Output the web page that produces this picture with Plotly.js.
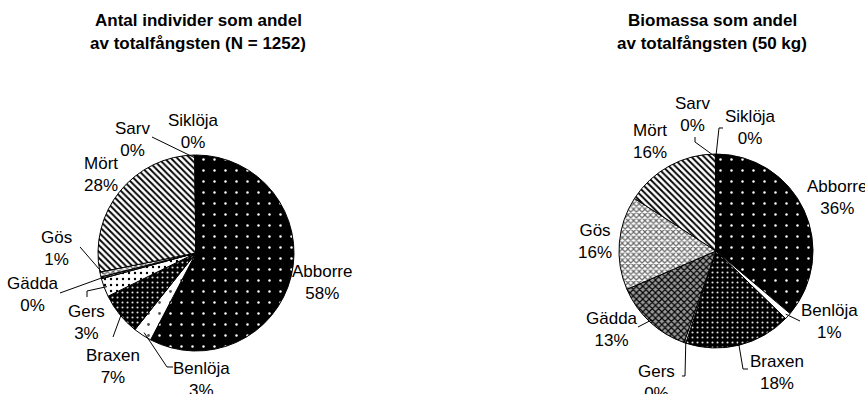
<!DOCTYPE html>
<html><head><meta charset="utf-8">
<script src="https://cdn.plot.ly/plotly-3.0.1.min.js"></script>
<style>html,body{margin:0;padding:0;background:#fff}#chart{width:865px;height:394px}</style>
</head><body><div id="chart"></div>
<script>
// ---- data ----
const species = ['Abborre','Benlöja','Braxen','Gers','Gädda','Gös','Mört','Sarv','Siklöja'];
const antalIndivider = [722, 38, 88, 38, 4, 10, 349, 2, 1];          // N = 1252
const biomassaKg = [18.1, 0.55, 8.9, 0.15, 6.6, 7.8, 7.9, 0.03, 0.02]; // ~50 kg
const titleLeft = ['Antal individer som andel', 'av totalfångsten (N = 1252)'];
const titleRight = ['Biomassa som andel', 'av totalfångsten (50 kg)'];

// ---- layout / style ----
const W = 865, H = 394;
const labelFont = {family: 'Liberation Sans Narrow, Arial Narrow, Liberation Sans, Arial, sans-serif', size: 17, color: '#000'};
const titleFont = {family: 'Liberation Sans, Arial, sans-serif', size: 17, color: '#000', weight: 'bold'};

const pies = [
  {
    cx: 196, cy: 253, r: 98, values: antalIndivider, title: titleLeft, tx: 198,
    shape: ['.', '.', '.', '.', 'x', 'x', '\\', '', ''],
    bg:    ['#000', '#fff', '#000', '#fff', '#999', '#fff', '#fff', '#fff', '#000'],
    fg:    ['#fff', '#555', '#ddd', '#000', '#000', '#666', '#000', '#000', '#fff'],
    size:  [11, 11, 5, 6, 4, 4, 4.5, 8, 8],
    sol:   [0.04, 0.05, 0.14, 0.12, 0.45, 0.5, 0.42, 0.3, 0.3],
    labelOff: {
      'Abborre': [126, 29.5], 'Benlöja': [5, 126], 'Braxen': [-83, 113], 'Gers': [-109.5, 69.5],
      'Gädda': [-163, 41], 'Gös': [-139.5, -5], 'Mört': [-95.5, -78.5], 'Sarv': [-63.5, -114], 'Siklöja': [-3, -122]
    },
    leaders: {
      'Sarv': [[-44, -116]], 'Gös': [[-116, -6]], 'Gädda': [[-136, 40]],
      'Gers': [[-109, 44], [-109, 38]], 'Braxen': [[-83, 84]], 'Benlöja': [[-23, 114], [-29, 114]]
    }
  },
  {
    cx: 716, cy: 251, r: 97, values: biomassaKg, title: titleRight, tx: 712,
    shape: ['.', '', '.', '', 'x', 'x', '\\', '', ''],
    bg:    ['#000', '#fff', '#000', '#fff', '#999', '#fff', '#fff', '#fff', '#000'],
    fg:    ['#fff', '#000', '#ddd', '#000', '#000', '#666', '#000', '#000', '#fff'],
    size:  [11, 8, 5, 8, 4.5, 4, 4.5, 8, 8],
    sol:   [0.04, 0.3, 0.14, 0.3, 0.45, 0.5, 0.42, 0.3, 0.3],
    labelOff: {
      'Abborre': [121, -53], 'Benlöja': [113, 70.5], 'Braxen': [61, 121], 'Gers': [-60, 131],
      'Gädda': [-104.5, 78], 'Gös': [-121, -9.5], 'Mört': [-66, -110], 'Sarv': [-24, -136], 'Siklöja': [34, -123]
    },
    leaders: {
      'Sarv': [[-21, -114], [-21, -109]], 'Siklöja': [[7, -123], [3, -123]], 'Benlöja': [[84, 70]],
      'Braxen': [[32, 118], [27, 118]], 'Gers': [[-34, 125], [-31, 125]], 'Gädda': [[-78, 76]]
    }
  }
];

const traces = [], annotations = [], shapes = [];
pies.forEach(p => {
  const total = p.values.reduce((a, b) => a + b, 0);
  traces.push({
    type: 'pie', values: p.values, labels: species, sort: false, direction: 'clockwise', rotation: 0,
    textinfo: 'none', hoverinfo: 'label+percent', showlegend: false,
    domain: {x: [(p.cx - p.r) / W, (p.cx + p.r) / W], y: [1 - (p.cy + p.r) / H, 1 - (p.cy - p.r) / H]},
    marker: {
      colors: p.bg, line: {color: '#000', width: 1},
      pattern: {shape: p.shape, bgcolor: p.bg, fgcolor: p.fg, size: p.size, solidity: p.sol, fillmode: 'replace'}
    }
  });
  p.title.forEach((t, k) => {
    annotations.push({xref: 'paper', yref: 'paper', x: p.tx / W, y: 1 - (21 + 22 * k) / H,
      text: '<b>' + t + '</b>', showarrow: false, xanchor: 'center', yanchor: 'middle', font: titleFont});
  });
  let cum = 0;
  species.forEach((s, i) => {
    const v = p.values[i];
    const mid = (cum + v / 2) / total * 2 * Math.PI;
    cum += v;
    const pct = Math.round(v / total * 100) + '%';
    const off = p.labelOff[s];
    annotations.push({xref: 'paper', yref: 'paper', x: (p.cx + off[0]) / W, y: 1 - (p.cy + off[1]) / H,
      text: s + '<br>' + pct, showarrow: false, xanchor: 'center', yanchor: 'middle', font: labelFont});
    const ld = p.leaders[s];
    if (ld) {
      const ex = p.cx + p.r * 0.97 * Math.sin(mid), ey = p.cy - p.r * 0.97 * Math.cos(mid);
      const pts = ld.map(q => [p.cx + q[0], p.cy + q[1]]).concat([[ex, ey]]);
      const path = pts.map((q, k) => (k ? 'L' : 'M') + (q[0] / W).toFixed(5) + ',' + (1 - q[1] / H).toFixed(5)).join(' ');
      shapes.push({type: 'path', xref: 'paper', yref: 'paper', path: path, line: {color: '#000', width: 1}});
    }
  });
});

Plotly.newPlot('chart', traces, {
  width: W, height: H, margin: {l: 0, r: 0, t: 0, b: 0},
  paper_bgcolor: '#fff', plot_bgcolor: '#fff',
  annotations: annotations, shapes: shapes, showlegend: false
}, {displayModeBar: false, staticPlot: true});
</script>
</body></html>
